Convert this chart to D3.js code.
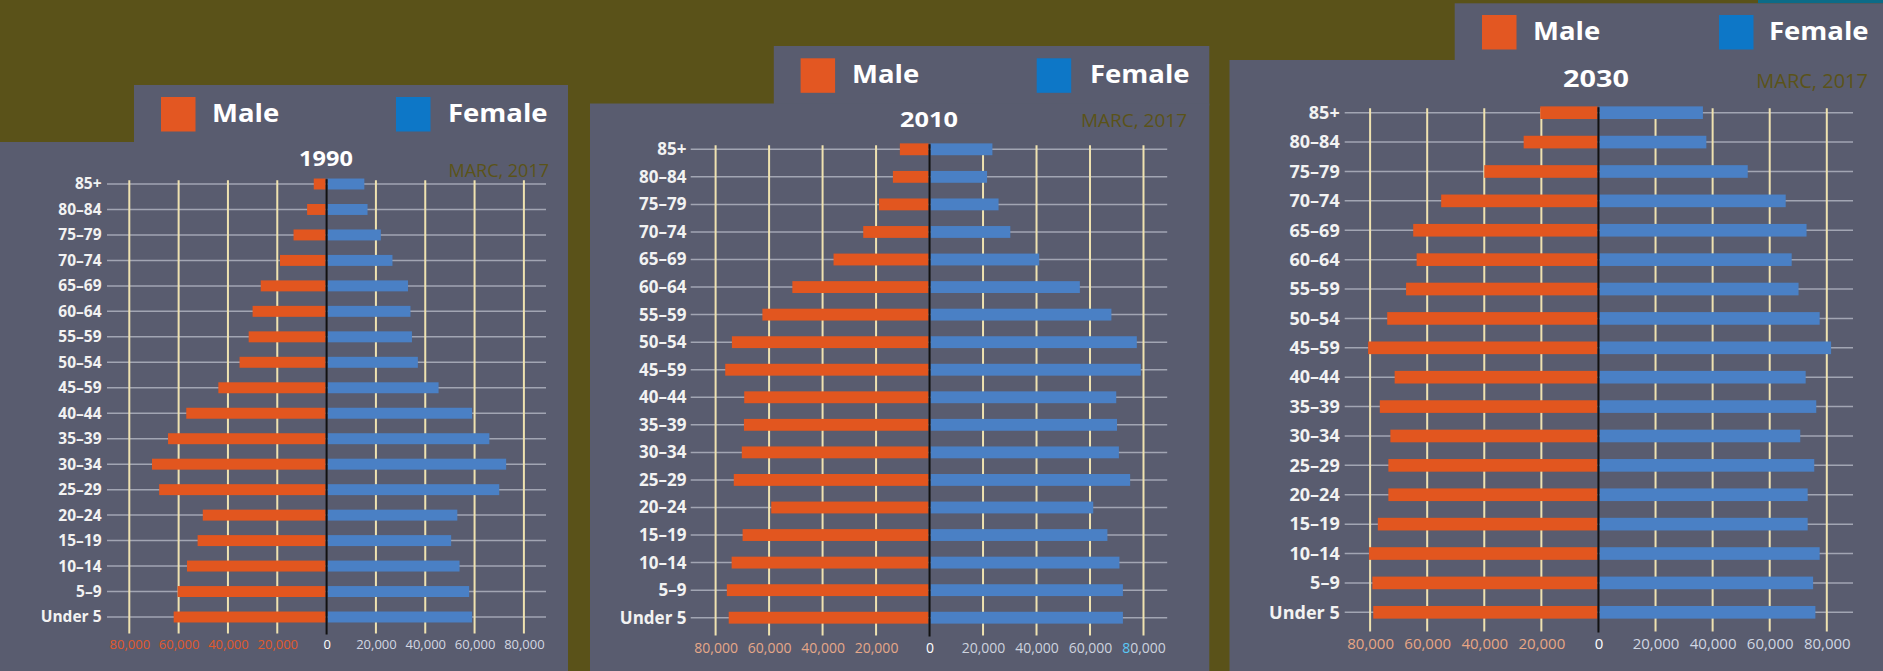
<!DOCTYPE html>
<html>
<head>
<meta charset="utf-8">
<script src="https://cdn.jsdelivr.net/npm/d3@7/dist/d3.min.js"></script>
<style>
  body { margin: 0; background: #5a5219; }
  svg { display: block; font-family: "Open Sans", sans-serif; }
</style>
</head>
<body>
<svg id="chart" width="1883" height="671"></svg>
<script>
/* Population pyramids 1990 / 2010 / 2030 (MARC, 2017) */

const ageGroups = ["85+", "80–84", "75–79", "70–74", "65–69", "60–64", "55–59", "50–54",
  "45–59", "40–44", "35–39", "30–34", "25–29", "20–24", "15–19", "10–14", "5–9", "Under 5"];

const male1990   = [5200, 7900, 13400, 18900, 26700, 30000, 31600, 35300, 43900, 56900, 64300, 70800, 67900, 50200, 52300, 56600, 60400, 62000];
const female1990 = [15300, 16600, 22000, 26700, 33000, 34000, 34600, 37000, 45400, 59000, 66000, 72800, 70000, 53000, 50500, 53900, 57800, 59000];

const male2010   = [11100, 13700, 18900, 24800, 35900, 51300, 62500, 73900, 76400, 69300, 69400, 70200, 73200, 59200, 69900, 74000, 75800, 75100];
const female2010 = [23500, 21500, 25800, 30200, 41000, 56200, 68000, 77500, 79000, 69800, 70100, 70800, 75000, 61200, 66500, 71000, 72300, 72300];

const male2030   = [20400, 26200, 40000, 55100, 64900, 63700, 67400, 74000, 80700, 71400, 76600, 72900, 73600, 73600, 77300, 80400, 79200, 78900];
const female2030 = [36600, 37800, 52300, 65600, 72900, 67700, 70100, 77500, 81500, 72600, 76300, 70700, 75600, 73300, 73300, 77500, 75200, 76000];

const tickValues = [-80000, -60000, -40000, -20000, 0, 20000, 40000, 60000, 80000];
const legendLabels = ["Male", "Female"];
const sourceLabel = "MARC, 2017";

/*** layout of the three pasted pictures */
const panels = [
  { year: "1990", male: male1990, female: female1990,
    box: [0, 142, 568], legendBox: [134, 85, 434],
    xRange: [129.3, 523.9], yRange: [184, 617], lineX: [107, 546], labelX: 101.5,
    tickY: 649, tickSize: 13, labelSize: 15.5,
    title: [326, 166, 21, 1.12], marc: [549, 177, 18],
    legend: { sqTop: 97, male: 161, female: 396, maleText: 212, femaleText: 448 },
    negColor: "#e2592b", posColor: "#d3d7e2", cyanEight: false },
  { year: "2010", male: male2010, female: female2010,
    box: [590, 103.5, 619.3], legendBox: [773.8, 46, 435.5],
    xRange: [715.6, 1143.5], yRange: [149.3, 617.7], lineX: [690.7, 1167.2], labelX: 686.5,
    tickY: 652.5, tickSize: 14, labelSize: 17,
    title: [929, 127.3, 22, 1.15], marc: [1187, 127.3, 19],
    legend: { sqTop: 58.3, male: 800.6, female: 1036.7, maleText: 852, femaleText: 1090 },
    negColor: "#e6a889", posColor: "#cdd3df", cyanEight: true },
  { year: "2030", male: male2030, female: female2030,
    box: [1229.5, 60, 653.5], legendBox: [1454.7, 3.3, 428.3],
    xRange: [1370.1, 1826.8], yRange: [112.7, 612.3], lineX: [1344.7, 1853], labelX: 1339.7,
    tickY: 649.3, tickSize: 15, labelSize: 18,
    title: [1596, 86.7, 24, 1.2], marc: [1868, 88.3, 20],
    legend: { sqTop: 15, male: 1482, female: 1719, maleText: 1533, femaleText: 1769 },
    negColor: "#e8a684", posColor: "#d0d6e2", cyanEight: false }
];

const svg = d3.select("#chart");
const H = 671;

/* teal strip at the top right corner */
svg.append("rect").attr("x", 1758).attr("y", 0).attr("width", 125).attr("height", 3.3).attr("fill", "#0c6b87");

const fmt = d3.format(",");

panels.forEach(p => {
  const g = svg.append("g");

  /*** panel backgrounds */
  g.append("rect")
    .attr("x", p.legendBox[0]).attr("y", p.legendBox[1])
    .attr("width", p.legendBox[2]).attr("height", p.box[1] - p.legendBox[1] + 2)
    .attr("fill", "#595c6f");
  g.append("rect")
    .attr("x", p.box[0]).attr("y", p.box[1])
    .attr("width", p.box[2]).attr("height", H - p.box[1])
    .attr("fill", "#595c6f");

  /*** scales */
  const x = d3.scaleLinear().domain([-80000, 80000]).range(p.xRange);
  const y = d3.scalePoint().domain(ageGroups).range(p.yRange);
  const step = y.step();
  const gridTop = p.yRange[0] - 0.15 * step;
  const gridBottom = p.yRange[1] + 0.65 * step;
  const barH = step * 0.43;

  /*** horizontal category lines */
  g.append("g")
    .selectAll("line")
    .data(ageGroups)
    .join("line")
    .attr("x1", p.lineX[0]).attr("x2", p.lineX[1])
    .attr("y1", d => y(d)).attr("y2", d => y(d))
    .attr("stroke", "#a2a5b3").attr("stroke-width", 1.5);

  /*** vertical gridlines */
  g.append("g")
    .selectAll("line")
    .data(tickValues.filter(d => d !== 0))
    .join("line")
    .attr("x1", d => x(d)).attr("x2", d => x(d))
    .attr("y1", gridTop).attr("y2", gridBottom)
    .attr("stroke", "#efe2b0").attr("stroke-width", 2);

  /*** bars */
  g.append("g")
    .attr("fill", "#e2561f")
    .selectAll("rect")
    .data(ageGroups)
    .join("rect")
    .attr("x", (d, i) => x(-p.male[i]))
    .attr("width", (d, i) => Math.max(0, x(0) - x(-p.male[i]) - 1))
    .attr("y", d => y(d) - barH / 2)
    .attr("height", barH);

  g.append("g")
    .attr("fill", "#4a80c5")
    .selectAll("rect")
    .data(ageGroups)
    .join("rect")
    .attr("x", x(0) + 1)
    .attr("width", (d, i) => Math.max(0, x(p.female[i]) - x(0) - 1))
    .attr("y", d => y(d) - barH / 2)
    .attr("height", barH);

  /*** zero line */
  g.append("line")
    .attr("x1", x(0)).attr("x2", x(0))
    .attr("y1", gridTop - 1).attr("y2", gridBottom + 1)
    .attr("stroke", "#111").attr("stroke-width", 2);

  /*** x axis labels */
  const xAxis = g.append("g")
    .attr("transform", `translate(0,${p.tickY})`)
    .call(d3.axisBottom(x).tickValues(tickValues).tickSize(0).tickFormat(d => fmt(Math.abs(d))));
  xAxis.select(".domain").remove();
  xAxis.selectAll("text")
    .attr("y", 0).attr("dy", 0)
    .attr("font-family", "Open Sans")
    .attr("font-size", p.tickSize + "px")
    .attr("fill", d => d < 0 ? p.negColor : (d === 0 ? "#ffffff" : p.posColor));
  if (p.cyanEight) {
    const t = xAxis.selectAll("text").filter(d => d === 80000);
    t.text(null);
    t.append("tspan").attr("fill", "#5ac8f5").text("8");
    t.append("tspan").text("0,000");
  }

  /*** category labels */
  const yAxis = g.append("g")
    .attr("transform", `translate(${p.labelX},0)`)
    .call(d3.axisLeft(y).tickSize(0).tickPadding(0));
  yAxis.select(".domain").remove();
  yAxis.selectAll("text")
    .attr("font-family", "Open Sans")
    .attr("font-weight", "bold")
    .attr("font-size", p.labelSize + "px")
    .attr("fill", "#f2f2f2");

  /*** title and source */
  g.append("text")
    .attr("transform", `translate(${p.title[0]},${p.title[1]}) scale(${p.title[3]},1)`)
    .attr("text-anchor", "middle")
    .attr("font-weight", "bold")
    .attr("font-size", p.title[2] + "px")
    .attr("fill", "#ffffff")
    .text(p.year);

  g.append("text")
    .attr("x", p.marc[0]).attr("y", p.marc[1])
    .attr("text-anchor", "end")
    .attr("font-size", p.marc[2] + "px")
    .attr("fill", "#5b5318")
    .text(sourceLabel);

  /*** legend */
  const L = p.legend;
  const legendColors = ["#e35722", "#0d77c7"];
  [L.male, L.female].forEach((lx, i) => {
    g.append("rect")
      .attr("x", lx).attr("y", L.sqTop)
      .attr("width", 34.5).attr("height", 34.5)
      .attr("fill", legendColors[i]);
    g.append("text")
      .attr("transform", `translate(${i === 0 ? L.maleText : L.femaleText},${L.sqTop + 25}) scale(1.1,1)`)
      .attr("font-weight", "bold")
      .attr("font-size", "25px")
      .attr("fill", "#ffffff")
      .text(legendLabels[i]);
  });
});
</script>
</body>
</html>
